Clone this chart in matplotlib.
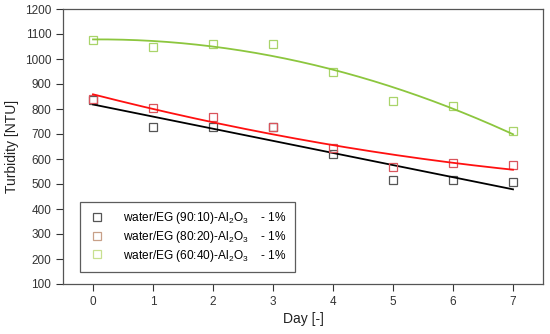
import numpy as np
import matplotlib
matplotlib.use("Agg")
import matplotlib.pyplot as plt

plt.rcParams['font.family'] = ['Liberation Sans', 'DejaVu Sans']
plt.rcParams['mathtext.fontset'] = 'custom'
plt.rcParams['mathtext.rm'] = 'Liberation Sans'
plt.rcParams['mathtext.it'] = 'Liberation Sans'

days = [0, 1, 2, 3, 4, 5, 6, 7]
turb_90_10 = [835, 730, 728, 728, 620, 518, 518, 510]
turb_80_20 = [840, 805, 768, 730, 645, 568, 585, 578]
turb_60_40 = [1078, 1050, 1062, 1060, 950, 832, 812, 712]

labels = [
    "water/EG (90:10)-Al$_2$O$_3$    - 1%",
    "water/EG (80:20)-Al$_2$O$_3$    - 1%",
    "water/EG (60:40)-Al$_2$O$_3$    - 1%",
]
series = [turb_90_10, turb_80_20, turb_60_40]
fit_deg = [1, 2, 2]
line_colors = ['black', '#ff1010', '#8cc63e']
marker_colors = ['#555555', '#d9545c', '#a9d46a']
legend_marker_colors = ['#555555', '#c8a088', '#c8e090']

fig = plt.figure(figsize=(5.5, 3.34), dpi=100)
ax = fig.add_axes([63 / 550, 1 - 284 / 334, 480 / 550, 275 / 334])

x = np.array(days)
xs = np.linspace(0, 7, 200)
handles = []
for y, deg, lc, mc, lmc, lab in zip(series, fit_deg, line_colors, marker_colors,
                                    legend_marker_colors, labels):
    ax.plot(x, y, 's', mfc='none', mec=mc, ms=6, mew=0.9)
    coef = np.polyfit(x, y, deg)
    ax.plot(xs, np.polyval(coef, xs), color=lc, lw=1.3)
    h, = ax.plot([], [], 's', mfc='none', mec=lmc, ms=6, mew=0.9, label=lab)
    handles.append(h)

ax.set_xlim(-0.5, 7.5)
ax.set_ylim(100, 1200)
ax.set_xticks(days)
ax.set_yticks(range(100, 1201, 100))
ax.tick_params(direction='out', length=5, width=0.8, labelsize=8.5, colors='#333333')
for s in ax.spines.values():
    s.set_color('#555555')
    s.set_linewidth(0.9)

ax.set_xlabel('Day [-]', fontsize=10, color='#222222', labelpad=3)
ax.set_ylabel('Turbidity [NTU]', fontsize=10, color='#222222', labelpad=4)

leg = ax.legend(handles=handles, loc='lower left', bbox_to_anchor=(0.035, 0.044),
                fontsize=8.6, frameon=True, fancybox=False, edgecolor='#333333',
                handletextpad=1.4, borderpad=0.7, labelspacing=0.22, handlelength=1.5,
                borderaxespad=0)
leg.get_frame().set_linewidth(0.9)

fig.savefig('out.png', dpi=100)
